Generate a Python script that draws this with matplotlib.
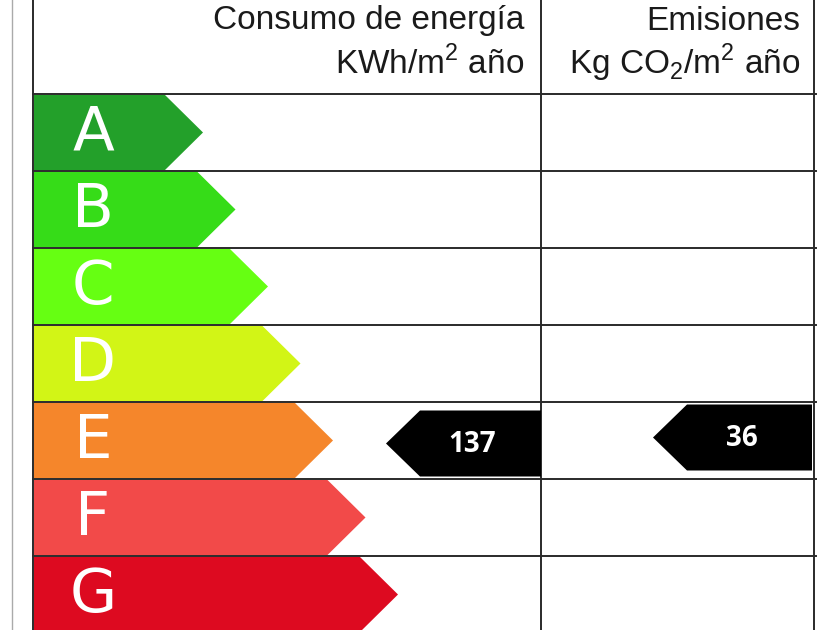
import matplotlib.pyplot as plt
from matplotlib.patches import Polygon

plt.rcParams['mathtext.fontset'] = 'custom'
plt.rcParams['mathtext.rm'] = 'Liberation Sans'

# Energy classes and their colours
classes = ['A', 'B', 'C', 'D', 'E', 'F', 'G']
colors = ['#23a02a', '#36dc18', '#66ff12', '#d2f516', '#f5862b', '#f24a49', '#dd0a20']

# Rating of the building
rating = 'E'
energy_value = 137
emission_value = 36

header_energy = ['Consumo de energía', 'KWh/m$^2$ año']
header_emission = ['Emisiones', 'Kg CO$_2$/m$^2$ año']

fig = plt.figure(figsize=(8.4, 6.3), dpi=100)
ax = fig.add_axes([0, 0, 1, 1])
ax.set_xlim(0, 840)
ax.set_ylim(630, 0)
ax.axis('off')

left, mid, right = 33, 541, 814
top_rows = 94
row_h = 77
line_kw = dict(color='#2a2a2a', lw=1.4)

# table lines
ax.plot([12, 12], [0, 630], color='#aaaaaa', lw=1)
ax.plot([left, left], [0, 630], **line_kw)
ax.plot([mid, mid], [0, 630], **line_kw)
ax.plot([right, right], [0, 630], **line_kw)
for i in range(len(classes) + 1):
    y = top_rows + i * row_h
    ax.plot([left, right + 2], [y, y], **line_kw)

# class arrows
for i, (c, col) in enumerate(zip(classes, colors)):
    y0 = top_rows + i * row_h + 1
    y1 = y0 + row_h - 2
    body = 165 + i * 32.5
    tip = body + 38
    ax.add_patch(Polygon([[left + 1, y0], [body, y0], [tip, (y0 + y1) / 2],
                          [body, y1], [left + 1, y1]], closed=True,
                         facecolor=col, edgecolor='none', zorder=2))
    ax.text(93, (y0 + y1) / 2 + 1, c, color='white', fontsize=44,
            ha='center', va='center', family='DejaVu Sans', zorder=3)

# rating pointers
ri = classes.index(rating)
yc = top_rows + ri * row_h + row_h / 2

def pointer(xtip, xright, yc, h, label):
    ax.add_patch(Polygon([[xtip, yc], [xtip + 34, yc - h / 2], [xright, yc - h / 2],
                          [xright, yc + h / 2], [xtip + 34, yc + h / 2]], closed=True,
                         facecolor='black', edgecolor='none', zorder=4))
    ax.text((xtip + 34 + xright) / 2 - 8, yc + 1, str(label), color='white',
            fontsize=20, fontweight='bold', ha='center', va='center',
            family='Open Sans', zorder=5)

pointer(386, mid, yc + 3, 66, energy_value)
pointer(653, 812, yc - 3, 66, emission_value)

# header
hkw = dict(fontsize=24, ha='right', va='center', family='Liberation Sans', color='#1a1a1a')
ax.text(524, 21, header_energy[0], **hkw)
ax.text(524, 63, header_energy[1], **hkw)
ax.text(800, 21, header_emission[0], **hkw)
ax.text(800, 63, header_emission[1], **hkw)

fig.savefig('out.png', dpi=100)
